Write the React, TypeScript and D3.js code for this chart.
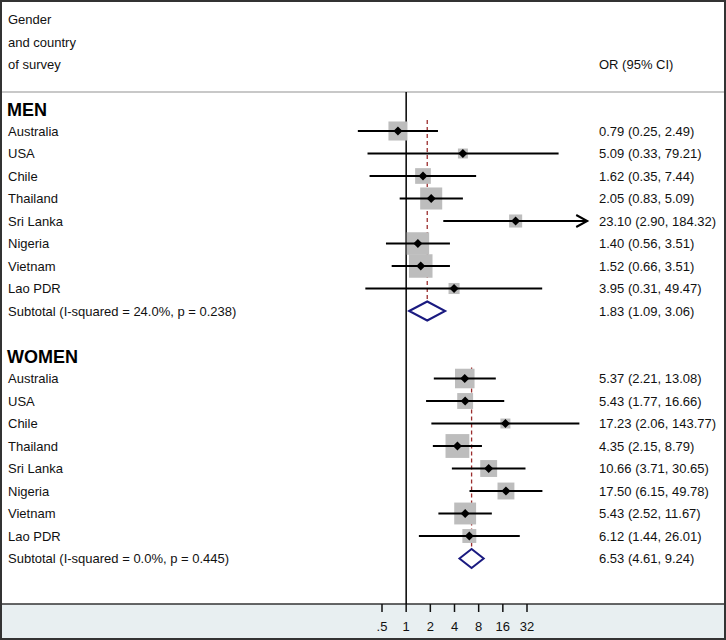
import React from 'react';
import * as d3 from 'd3';

// study rows (same country order for both groups)
const countries = ['Australia', 'USA', 'Chile', 'Thailand', 'Sri Lanka', 'Nigeria', 'Vietnam', 'Lao PDR'];

const menOR = [0.79, 5.09, 1.62, 2.05, 23.10, 1.40, 1.52, 3.95];
const menLo = [0.25, 0.33, 0.35, 0.83, 2.90, 0.56, 0.66, 0.31];
const menHi = [2.49, 79.21, 7.44, 5.09, 184.32, 3.51, 3.51, 49.47];
const menWeight = [14.2, 3.9, 9.7, 19.1, 6.7, 19.9, 21.7, 4.8];
const menSubtotal = [1.83, 1.09, 3.06];
const menHet = 'Subtotal (I-squared = 24.0%, p = 0.238)';

const womenOR = [5.37, 5.43, 17.23, 4.35, 10.66, 17.50, 5.43, 6.12];
const womenLo = [2.21, 1.77, 2.06, 2.15, 3.71, 6.15, 2.52, 1.44];
const womenHi = [13.08, 16.66, 143.77, 8.79, 30.65, 49.78, 11.67, 26.01];
const womenWeight = [15.0, 9.9, 3.9, 22.3, 11.2, 11.2, 18.8, 7.6];
const womenSubtotal = [6.53, 4.61, 9.24];
const womenHet = 'Subtotal (I-squared = 0.0%, p = 0.445)';

const ticks = [0.5, 1, 2, 4, 8, 16, 32];
const tickLabels = ['.5', '1', '2', '4', '8', '16', '32'];
const clipMax = 180;

const W = 726;
const H = 640;
const font = 'Liberation Sans, Arial, sans-serif';

const App: React.FC = () => {
  const x = d3.scaleLog().base(2).domain([0.5, 32]).range([382, 527]);
  // row index -> y centre
  const y = d3.scaleLinear().domain([0, 20]).range([108.5, 558.5]);
  const side = d3.scaleSqrt().domain([0, 21.7]).range([0, 23.5]);
  const fmt = d3.format('.2f');

  const groups = [
    { name: 'MEN', start: 0, or: menOR, lo: menLo, hi: menHi, w: menWeight, sub: menSubtotal, het: menHet },
    { name: 'WOMEN', start: 11, or: womenOR, lo: womenLo, hi: womenHi, w: womenWeight, sub: womenSubtotal, het: womenHet },
  ];

  const ciText = (o: number, l: number, h: number) => `${fmt(o)} (${fmt(l)}, ${fmt(h)})`;

  return (
    <svg width={W} height={H} style={{ position: 'absolute', left: 0, top: 0, background: '#fff' }}>
      {/* axis band */}
      <rect x={2} y={604} width={W - 4} height={34} fill="#e8eff1" />
      <line x1={1} x2={W - 1} y1={604} y2={604} stroke="#333" strokeWidth={1.5} />
      {/* header separator */}
      <line x1={2} x2={W - 2} y1={92} y2={92} stroke="#c8c8c8" strokeWidth={2} />

      {/* header */}
      <g fontFamily={font} fontSize={13} fill="#111">
        <text x={8} y={24}>Gender</text>
        <text x={8} y={47}>and country</text>
        <text x={8} y={69}>of survey</text>
        <text x={599} y={69}>OR (95% CI)</text>
      </g>

      {/* null line */}
      <line x1={x(1)} x2={x(1)} y1={92} y2={604} stroke="#000" strokeWidth={1.5} />

      {groups.map(g => {
        const subY = y(g.start + 9);
        return (
          <g key={g.name}>
            <text x={7} y={y(g.start) + 7} fontFamily={font} fontSize={18} fontWeight="bold" fill="#000">{g.name}</text>
            {/* overall dashed line */}
            <line
              x1={x(g.sub[0])} x2={x(g.sub[0])}
              y1={y(g.start + 1) - 11} y2={subY + 11}
              stroke="#9b2d2d" strokeWidth={1.3} strokeDasharray="4,3"
            />
            {countries.map((c, i) => {
              const cy = y(g.start + 1 + i);
              const cx = x(g.or[i]);
              const s = side(g.w[i]);
              const clipped = g.hi[i] > clipMax;
              const xe = x(Math.min(g.hi[i], clipMax));
              return (
                <g key={c}>
                  <rect x={cx - s / 2} y={cy - s / 2} width={s} height={s} fill="#bdbdbd" />
                  <line x1={x(g.lo[i])} x2={xe} y1={cy} y2={cy} stroke="#000" strokeWidth={2} />
                  {clipped && (
                    <path d={`M${xe - 11},${cy - 6}L${xe},${cy}L${xe - 11},${cy + 6}`} fill="none" stroke="#000" strokeWidth={2} />
                  )}
                  <path d={`M${cx - 4.5},${cy}L${cx},${cy - 4.5}L${cx + 4.5},${cy}L${cx},${cy + 4.5}Z`} fill="#000" />
                  <text x={8} y={cy + 4.5} fontFamily={font} fontSize={13} fill="#111">{c}</text>
                  <text x={599} y={cy + 4.5} fontFamily={font} fontSize={13} fill="#111">{ciText(g.or[i], g.lo[i], g.hi[i])}</text>
                </g>
              );
            })}
            <path
              d={`M${x(g.sub[1])},${subY}L${x(g.sub[0])},${subY - 9.5}L${x(g.sub[2])},${subY}L${x(g.sub[0])},${subY + 9.5}Z`}
              fill="#fff" stroke="#1a1a80" strokeWidth={2}
            />
            <text x={8} y={subY + 4.5} fontFamily={font} fontSize={13} fill="#111">{g.het}</text>
            <text x={599} y={subY + 4.5} fontFamily={font} fontSize={13} fill="#111">{ciText(g.sub[0], g.sub[1], g.sub[2])}</text>
          </g>
        );
      })}

      {/* axis ticks */}
      {ticks.map((t, i) => (
        <g key={t}>
          <line x1={x(t)} x2={x(t)} y1={604} y2={612} stroke="#111" strokeWidth={1.5} />
          <text x={x(t)} y={631} textAnchor="middle" fontFamily={font} fontSize={13} fill="#111">{tickLabels[i]}</text>
        </g>
      ))}

      {/* outer frame */}
      <rect x={1} y={1} width={W - 2} height={H - 2} fill="none" stroke="#333" strokeWidth={2} />
    </svg>
  );
};

export default App;
